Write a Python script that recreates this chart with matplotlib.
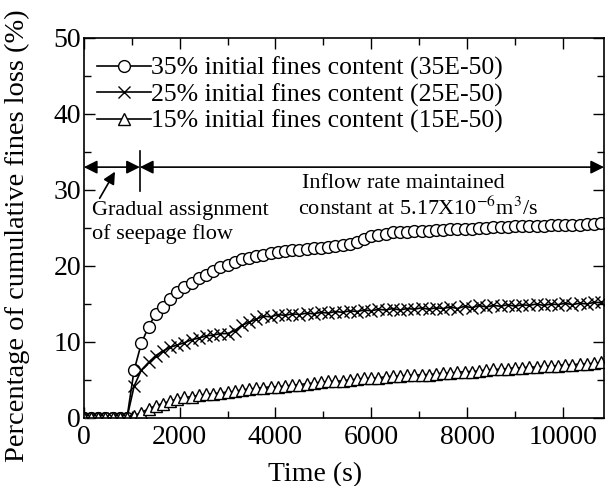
import matplotlib
matplotlib.use("Agg")
import matplotlib.pyplot as plt
from matplotlib.ticker import MultipleLocator

plt.rcParams['font.family'] = ['Liberation Serif', 'DejaVu Serif']
plt.rcParams['mathtext.fontset'] = 'stix'

# sampling times (s)
time_s = [0, 150, 300, 450, 600, 750, 900, 1050, 1200, 1350, 1500, 1650, 1800, 1950,
          2100, 2250, 2400, 2550, 2700, 2850, 3000, 3150, 3300, 3450, 3600, 3750, 3900,
          4050, 4200, 4350, 4500, 4650, 4800, 4950, 5100, 5250, 5400, 5550, 5700, 5850,
          6000, 6150, 6300, 6450, 6600, 6750, 6900, 7050, 7200, 7350, 7500, 7650, 7800,
          7950, 8100, 8250, 8400, 8550, 8700, 8850, 9000, 9150, 9300, 9450, 9600, 9750,
          9900, 10050, 10200, 10350, 10500, 10650, 10800]

# cumulative fines loss (%)
loss_35 = [0, 0, 0, 0, 0, 0, 0,
           6.3, 9.8, 12.0, 13.7, 14.6, 15.6, 16.6, 17.2, 17.7, 18.4, 18.8, 19.3, 19.8,
           20.1, 20.5, 20.9, 21.1, 21.3, 21.5, 21.7, 21.8, 21.9, 22.1, 22.1, 22.2, 22.3,
           22.4, 22.5, 22.6, 22.8, 22.9, 23.1, 23.5, 23.9, 24.1, 24.2, 24.4, 24.5, 24.5,
           24.6, 24.6, 24.6, 24.7, 24.7, 24.8, 24.8, 24.8, 24.9, 25.0, 25.0, 25.1, 25.1,
           25.1, 25.2, 25.2, 25.3, 25.3, 25.3, 25.4, 25.4, 25.4, 25.4, 25.4, 25.5, 25.5,
           25.7]
loss_25 = [0, 0, 0, 0, 0, 0, 0,
           4.2, 6.3, 7.3, 8.2, 8.8, 9.3, 9.6, 9.9, 10.3, 10.5, 10.8, 10.9, 11.1, 11.1,
           11.5, 12.2, 12.6, 13.0, 13.4, 13.3, 13.6, 13.5, 13.7, 13.6, 13.8, 13.7, 13.9,
           13.8, 14.0, 13.9, 14.1, 14.0, 14.2, 14.1, 14.3, 14.2, 14.4, 14.2, 14.4, 14.3,
           14.5, 14.3, 14.5, 14.4, 14.6, 14.4, 14.7, 14.5, 14.8, 14.6, 14.8, 14.7, 14.9,
           14.7, 14.9, 14.8, 15.0, 14.8, 15.0, 14.9, 15.1, 14.9, 15.1, 15.0, 15.2, 15.2]
loss_15 = [0, 0, 0, 0, 0, 0, 0,
           0.3, 0.7, 1.2, 1.6, 1.9, 2.2, 2.5, 2.7, 2.8, 3.0, 3.1, 3.2, 3.3, 3.4, 3.5,
           3.7, 3.8, 3.9, 4.0, 4.1, 4.1, 4.2, 4.3, 4.4, 4.5, 4.6, 4.7, 4.8, 4.8, 4.9,
           5.0, 5.1, 5.2, 5.2, 5.3, 5.4, 5.5, 5.5, 5.6, 5.6, 5.7, 5.7, 5.8, 5.9, 5.9,
           6.0, 6.1, 6.1, 6.2, 6.3, 6.4, 6.4, 6.5, 6.6, 6.6, 6.7, 6.7, 6.8, 6.8, 6.9,
           7.0, 7.0, 7.1, 7.1, 7.2, 7.3]

labels = ["35% initial fines content (35E-50)",
          "25% initial fines content (25E-50)",
          "15% initial fines content (15E-50)"]

fig = plt.figure(figsize=(6.12, 4.86), dpi=100)
ax = fig.add_axes([0.137, 0.140, 0.850, 0.782])

ax.plot(time_s, loss_35, '-o', color='k', mfc='white', mec='k', ms=8.5, mew=1.0, lw=1.2, label=labels[0])
ax.plot(time_s, loss_25, '-x', color='k', ms=9, mew=1.0, lw=1.2, label=labels[1])
ax.plot(time_s, loss_15, '-^', color='k', mfc='white', mec='k', ms=9, mew=1.0, lw=1.2, label=labels[2])

ax.set_xlim(0, 10860)
ax.set_ylim(0, 50)
ax.xaxis.set_major_locator(MultipleLocator(2000))
ax.xaxis.set_minor_locator(MultipleLocator(1000))
ax.yaxis.set_major_locator(MultipleLocator(10))
ax.yaxis.set_minor_locator(MultipleLocator(5))
ax.tick_params(which='both', direction='in', top=True, right=True, width=1.0, labelsize=20)
ax.tick_params(axis='x', pad=5)
ax.tick_params(axis='y', pad=2)
ax.tick_params(which='major', length=8)
ax.tick_params(which='minor', length=5)
for s in ax.spines.values():
    s.set_linewidth(1.2)

ax.set_xlabel("Time (s)", fontsize=20)
ax.xaxis.set_label_coords(0.444, -0.115)
ax.set_ylabel("Percentage of cumulative fines loss (%)", fontsize=20.5)
ax.yaxis.set_label_coords(-0.104, 0.48)

leg = ax.legend(loc='upper left', bbox_to_anchor=(0.025, 0.95), frameon=False, fontsize=18.5,
                handlelength=2.1, handletextpad=0.0, labelspacing=0.12, borderaxespad=0.0,
                borderpad=0.0)

# annotations
arrow_kw = dict(arrowstyle='<|-|>', color='k', lw=1.2, mutation_scale=20, shrinkA=0, shrinkB=0)
ax.annotate('', xy=(0, 33), xytext=(1170, 33), arrowprops=arrow_kw)
ax.annotate('', xy=(1170, 33), xytext=(10860, 33), arrowprops=arrow_kw)
ax.plot([1170, 1170], [29.8, 35.1], color='k', lw=1.2)
ax.annotate('', xy=(650, 32.4), xytext=(330, 28.9),
            arrowprops=dict(arrowstyle='-|>', color='k', lw=1.2, mutation_scale=18, shrinkA=0, shrinkB=0))

ax.text(170, 26.7, "Gradual assignment", fontsize=16, va='baseline')
ax.text(170, 23.6, "of seepage flow", fontsize=16, va='baseline')
ax.text(4550, 30.3, "Inflow rate maintained", fontsize=16, va='baseline')
ax.text(4470, 26.7, r"constant at 5.17X10$^{-6}$m$^{3}$/s", fontsize=16, va='baseline')

fig.savefig("out.png", dpi=100)
